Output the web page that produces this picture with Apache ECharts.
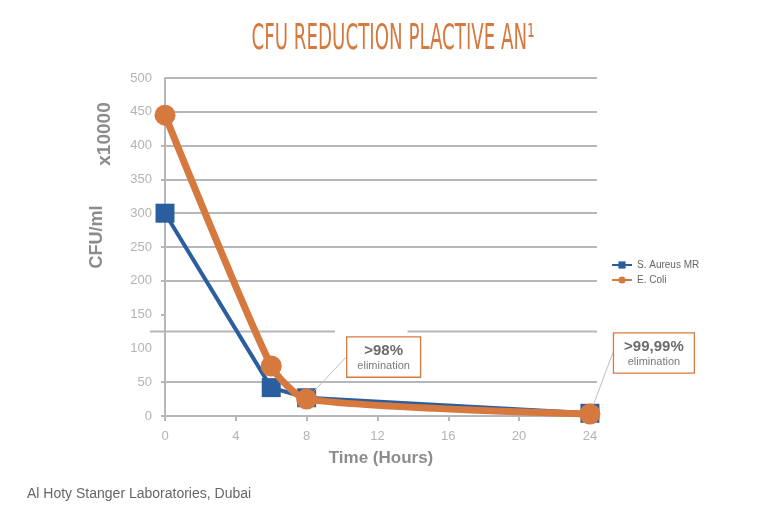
<!DOCTYPE html>
<html>
<head>
<meta charset="utf-8">
<script src="https://cdn.jsdelivr.net/npm/echarts@6/dist/echarts.min.js"></script>
<style>
  html, body { margin: 0; padding: 0; background: #fff; }
  #chart { width: 763px; height: 525px; }
</style>
</head>
<body>
<div id="chart"></div>
<script>
// Hours after application and CFU/ml (x10000) for each organism
var hours = [0, 6, 8, 24];
var aureus = [300, 42, 27, 4];
var coli = [445, 74, 25, 3];
// Callout text attached to the E. Coli points
var notes = ['', '', '>98%', '>99,99%'];
var xTicks = [0, 4, 8, 12, 16, 20, 24];
var yTicks = [0, 50, 150, 200, 250, 300, 350, 400, 450];

var blue = '#2b5e9f';
var orange = '#d6793f';
var gridGrey = '#b7b7bb';
var font = '"Liberation Sans", Arial, sans-serif';

var chart = echarts.init(document.getElementById('chart'));

// Squeeze the title to the width of the condensed headline font
var titleText = 'CFU REDUCTION PLACTIVE AN\u00b9';
var titleFont = '"Liberation Sans Narrow", "DejaVu Sans Condensed", "Liberation Sans", sans-serif';
var ctx = document.createElement('canvas').getContext('2d');
ctx.font = '36px ' + titleFont;
var titleScale = 283 / ctx.measureText(titleText).width;

var coliData = coli.map(function (v, i) {
    var item = { value: [hours[i], v] };
    if (notes[i]) {
        item.label = {
            show: true,
            formatter: '{a|' + notes[i] + '}\n{b|elimination}'
        };
    }
    return item;
});

var option = {
    animation: false,
    textStyle: { fontFamily: font },
    grid: { left: 165, right: 166, top: 78, bottom: 109 },
    legend: {
        orient: 'vertical',
        left: 606,
        top: 255,
        itemGap: 5,
        itemWidth: 20,
        itemHeight: 9,
        data: ['S. Aureus MR', 'E. Coli'],
        textStyle: { fontSize: 10, color: '#666', fontFamily: font }
    },
    xAxis: {
        type: 'value',
        min: 0,
        max: 24.4,
        interval: 4,
        name: 'Time (Hours)',
        nameLocation: 'middle',
        nameGap: 34,
        nameTextStyle: { fontSize: 17, fontWeight: 'bold', color: '#8c8c8c' },
        axisLine: { show: true, lineStyle: { color: gridGrey, width: 2 } },
        axisTick: { show: true, length: 5, customValues: xTicks, lineStyle: { color: gridGrey, width: 2 } },
        axisLabel: { customValues: xTicks, margin: 14, fontSize: 13, color: '#b3b3b3' },
        splitLine: { show: false }
    },
    yAxis: {
        type: 'value',
        min: 0,
        max: 500,
        interval: 50,
        axisLine: { show: true, lineStyle: { color: gridGrey, width: 2 } },
        axisTick: { show: true, length: 4, customValues: yTicks, lineStyle: { color: gridGrey, width: 2 } },
        axisLabel: { margin: 13, fontSize: 13, color: '#b3b3b3' },
        splitLine: {
            lineStyle: {
                width: 2,
                // the 100 line is missing in the original, a stray line sits at 125 instead
                color: [gridGrey, gridGrey, 'rgba(0,0,0,0)', gridGrey, gridGrey, gridGrey,
                        gridGrey, gridGrey, gridGrey, gridGrey, gridGrey]
            }
        }
    },
    series: [
        {
            name: 'S. Aureus MR',
            type: 'line',
            data: aureus.map(function (v, i) { return [hours[i], v]; }),
            symbol: 'rect',
            symbolSize: 19,
            itemStyle: { color: blue },
            lineStyle: { color: blue, width: 4 },
            z: 3
        },
        {
            name: 'E. Coli',
            type: 'line',
            data: coliData,
            smooth: 0.22,
            symbol: 'circle',
            symbolSize: 21,
            itemStyle: { color: orange },
            lineStyle: { color: orange, width: 7 },
            z: 4,
            label: {
                show: false,
                position: 'inside',
                backgroundColor: '#fff',
                borderColor: orange,
                borderWidth: 1.3,
                padding: [4, 10, 4, 10],
                align: 'center',
                rich: {
                    a: { fontSize: 15, fontWeight: 'bold', color: '#6b6b6b', lineHeight: 18, align: 'center' },
                    b: { fontSize: 11, color: '#7a7a7a', lineHeight: 13, align: 'center' }
                }
            },
            labelLine: { show: true, lineStyle: { color: '#bdbdbd', width: 1 } },
            labelLayout: function (p) {
                if (p.dataIndex === 2) return { dx: 77, dy: -42 };
                if (p.dataIndex === 3) return { dx: 64, dy: -61 };
            }
        }
    ],
    graphic: [
        {
            type: 'text',
            x: 393,
            y: 40,
            scaleX: titleScale,
            style: {
                text: titleText,
                font: '36px ' + titleFont,
                fill: orange,
                align: 'center',
                verticalAlign: 'middle'
            }
        },
        {
            type: 'text',
            x: 105,
            y: 134,
            rotation: Math.PI / 2,
            style: {
                text: 'x10000',
                font: 'bold 19px ' + font,
                fill: '#8c8c8c',
                align: 'center',
                verticalAlign: 'middle'
            }
        },
        {
            type: 'text',
            x: 97,
            y: 237,
            rotation: Math.PI / 2,
            style: {
                text: 'CFU/ml',
                font: 'bold 18px ' + font,
                fill: '#8c8c8c',
                align: 'center',
                verticalAlign: 'middle'
            }
        },
        {
            type: 'text',
            x: 27,
            y: 494,
            style: {
                text: 'Al Hoty Stanger Laboratories, Dubai',
                font: '14px ' + font,
                fill: '#666',
                verticalAlign: 'middle'
            }
        }
    ]
};

chart.setOption(option);

// Extra gridlines: the top one at 500, and the stray line at 125
// that is broken where the first callout sits
var extraLines = [[0, 24.4, 500], [-0.85, 9.6, 125], [13.7, 24.4, 125]].map(function (seg, i) {
    var a = chart.convertToPixel({ gridIndex: 0 }, [seg[0], seg[2]]);
    var b = chart.convertToPixel({ gridIndex: 0 }, [seg[1], seg[2]]);
    return {
        type: 'line',
        id: 'extra' + i,
        z: 1,
        silent: true,
        shape: { x1: a[0], y1: a[1], x2: b[0], y2: b[1] },
        style: { stroke: gridGrey, lineWidth: 2 }
    };
});
chart.setOption({ graphic: extraLines });
</script>
</body>
</html>
